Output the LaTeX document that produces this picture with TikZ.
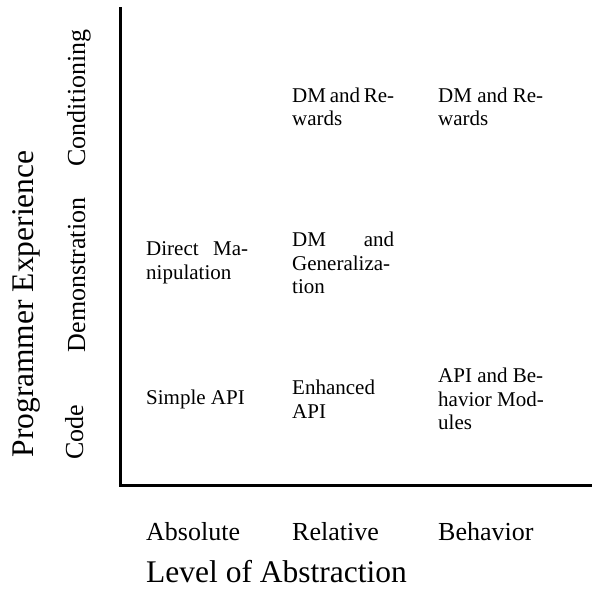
\documentclass[tikz,border=0pt]{standalone}
\usepackage{fontspec}
\setmainfont{Liberation Serif}
\usetikzlibrary{positioning}

\begin{document}
\begin{tikzpicture}[x=1pt,y=-1pt,
    celltext/.style={anchor=west, inner sep=0pt, text width=102pt, align=justify,
      font=\fontsize{21}{23.5}\selectfont},
    levellabel/.style={anchor=base west, inner sep=0pt, font=\fontsize{26}{30}\selectfont},
    explabel/.style={rotate=90, anchor=base, inner sep=0pt, font=\fontsize{26}{30}\selectfont},
    axistitle/.style={inner sep=0pt, font=\fontsize{31.5}{36}\selectfont}]
		\useasboundingbox (0,0) rectangle (592,595);
		% axes
		\coordinate (ytop) at (120,7);
		\coordinate (origin) at (120,485);
		\coordinate (xend) at (592,485);
		\draw [black, line width=3pt] (ytop) to (origin) to (xend);
		% cells, bottom row
		\node[celltext] (simple) at (146,399) {Simple API};
		\node[celltext] (enhanced) at (292,399) {Enhanced\\API};
		\node[celltext, text width=110pt] (modules) at (438,399) {API and Be-\\havior Mod-\\ules};
		% cells, middle row
		\node[celltext] (direct) at (146,263) {Direct Ma-\linebreak nipulation};
		\node[celltext] (general) at (292,263) {DM and\linebreak Generaliza-\\tion};
		% cells, top row
		\node[celltext] (rewardsrel) at (292,107) {DM and Re-\linebreak wards};
		\node[celltext, text width=110pt] (rewardsbeh) at (438,107) {DM and Re-\\wards};
		% abstraction levels
		\node[levellabel] (absolute) at (146,540) {Absolute};
		\node[levellabel] (relative) at (292,540) {Relative};
		\node[levellabel] (behavior) at (438,540) {Behavior};
		\node[axistitle, anchor=base west] (abstraction) at (146,582) {Level of Abstraction};
		% programmer experience
		\node[explabel] (code) at (83,432) {Code};
		\node[explabel] (demo) at (85,275) {Demonstration};
		\node[explabel] (cond) at (85,98) {Conditioning};
		\node[axistitle, rotate=90, anchor=base] (experience) at (34,304) {Programmer Experience};
	\end{tikzpicture}
\end{document}
